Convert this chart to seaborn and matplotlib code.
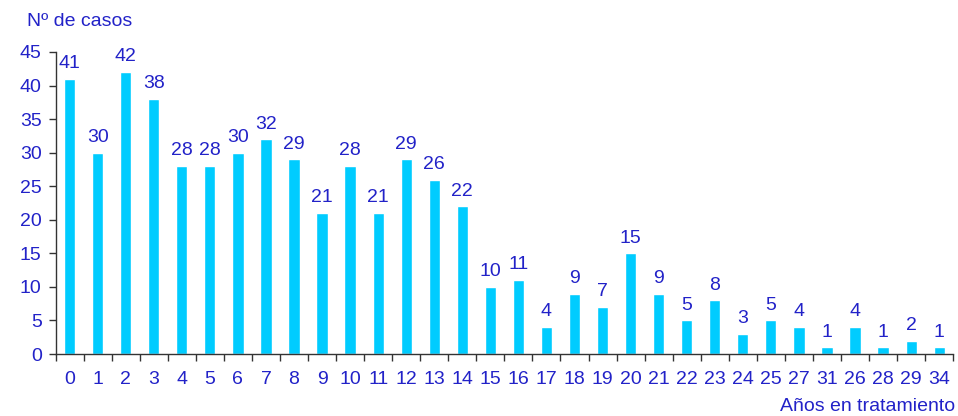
import matplotlib
matplotlib.use("Agg")
import matplotlib.pyplot as plt
import seaborn as sns
import pandas as pd
import numpy as np

# years in treatment (order as shown in the chart) and number of cases
years = ["0", "1", "2", "3", "4", "5", "6", "7", "8", "9", "10", "11", "12", "13",
         "14", "15", "16", "17", "18", "19", "20", "21", "22", "23", "24", "25",
         "27", "31", "26", "28", "29", "34"]
cases = [41, 30, 42, 38, 28, 28, 30, 32, 29, 21, 28, 21, 29, 26, 22, 10, 11, 4,
         9, 7, 15, 9, 5, 8, 3, 5, 4, 1, 4, 1, 2, 1]

df = pd.DataFrame({"years": years, "cases": cases})

sns.set_style("white")
plt.rcParams["font.family"] = ["Liberation Sans", "DejaVu Sans"]
txt = "#2222C8"
bar_col = "#00CCFF"
fs = 14

fig = plt.figure(figsize=(9.58, 4.16), dpi=100)
ax = fig.add_axes([0.058, 0.149, 0.937, 0.726])

sns.barplot(data=df, x="years", y="cases", order=years, color=bar_col,
            width=0.4, saturation=1, ax=ax)

for i, v in enumerate(cases):
    ax.text(i, v + 1.0, str(v), ha="center", va="bottom", color=txt, fontsize=fs)

ax.set_ylim(0, 45)
ax.set_yticks(range(0, 46, 5))
ax.set_xlim(-0.5, len(years) - 0.5)
ax.set_xticks(np.arange(-0.5, len(years), 1), minor=True)
ax.tick_params(axis="x", which="major", bottom=False, length=0, pad=12,
               labelcolor=txt, labelsize=fs)
ax.tick_params(axis="x", which="minor", bottom=True, length=5, width=1,
               color="#333333", direction="out")
ax.tick_params(axis="y", left=True, length=5, width=1, color="#333333",
               direction="out", labelcolor=txt, labelsize=fs, pad=5)
ax.set_xlabel("")
ax.set_ylabel("")
for s in ["top", "right"]:
    ax.spines[s].set_visible(False)
for s in ["left", "bottom"]:
    ax.spines[s].set_color("#333333")
    ax.spines[s].set_linewidth(1)

fig.text(0.028, 0.948, "Nº de casos", color=txt, fontsize=fs, ha="left", va="center")
fig.text(0.997, 0.022, "Años en tratamiento", color=txt, fontsize=fs, ha="right", va="center")

fig.savefig("out.png", dpi=100)
